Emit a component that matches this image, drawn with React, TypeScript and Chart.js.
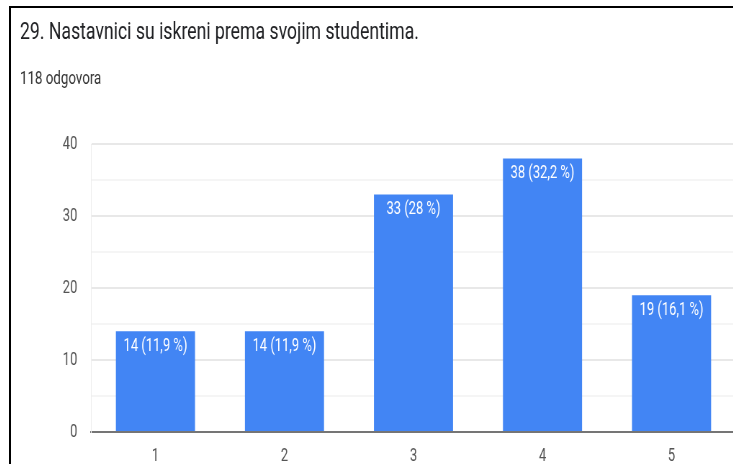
import React, { useEffect, useRef } from "react";
import { Chart, registerables } from "chart.js";

Chart.register(...registerables);

const titleText = "29. Nastavnici su iskreni prema svojim studentima.";
const subtitleText = "118 odgovora";
const categories = ["1", "2", "3", "4", "5"];
const counts = [14, 14, 33, 38, 19];
const totalResponses = 118;
const yTicks = [0, 10, 20, 30, 40];

const SX = 0.72;

function pctLabel(v: number): string {
  const p = (v / totalResponses) * 100;
  let s = p.toFixed(1);
  if (s.endsWith(".0")) s = s.slice(0, -2);
  return `${v} (${s.replace(".", ",")} %)`;
}

const headerPlugin = {
  id: "header",
  beforeDraw(chart: any) {
    const ctx = chart.ctx;
    ctx.save();
    ctx.fillStyle = "#ffffff";
    ctx.fillRect(0, 0, chart.width, chart.height);
    ctx.fillStyle = "#202124";
    ctx.textAlign = "left";
    ctx.textBaseline = "alphabetic";
    ctx.font = "24.5px Roboto";
    ctx.fillText(titleText, 12.5, 31);
    ctx.font = "18.5px Roboto";
    ctx.fillStyle = "#333333";
    ctx.fillText(subtitleText, 12.5, 76);
    ctx.restore();
  },
};

const barLabelPlugin = {
  id: "barLabels",
  afterDatasetsDraw(chart: any) {
    const ctx = chart.ctx;
    const meta = chart.getDatasetMeta(0);
    const data = chart.data.datasets[0].data as number[];
    ctx.save();
    ctx.fillStyle = "#ffffff";
    ctx.font = "18px Roboto";
    ctx.textAlign = "center";
    ctx.textBaseline = "top";
    meta.data.forEach((bar: any, i: number) => {
      ctx.fillText(pctLabel(data[i]), bar.x, bar.y + 6);
    });
    ctx.restore();
  },
};

export default function App() {
  const ref = useRef<HTMLCanvasElement | null>(null);
  useEffect(() => {
    if (!ref.current) return;
    const chart = new Chart(ref.current, {
      type: "bar",
      data: {
        labels: categories,
        datasets: [
          {
            data: counts,
            backgroundColor: "#4285f4",
            borderWidth: 0,
            barPercentage: 0.613,
            categoryPercentage: 1,
          },
        ],
      },
      options: {
        animation: false,
        responsive: true,
        maintainAspectRatio: false,
        layout: { padding: { top: 136, left: 71, right: 3, bottom: 0 } },
        plugins: {
          legend: { display: false },
          tooltip: { enabled: false },
          title: { display: false },
        },
        scales: {
          x: {
            afterFit: (scale: any) => {
              scale.height = 36;
            },
            grid: { display: false, drawTicks: false },
            border: { display: true, color: "#757575", width: 2 },
            ticks: {
              color: "#555555",
              font: { family: "Roboto", size: 18 },
              padding: 14,
            },
          },
          y: {
            min: 0,
            max: 40,
            afterFit: (scale: any) => {
              scale.width = 40;
            },
            afterBuildTicks: (scale: any) => {
              const t: any[] = [];
              for (let v = 0; v <= 40; v += 5) t.push({ value: v });
              scale.ticks = t;
            },
            grid: {
              drawTicks: false,
              color: (c: any) => {
                const v = c.tick ? c.tick.value : 0;
                if (v === 0) return "rgba(0,0,0,0)";
                return v % 10 === 0 ? "#e8e8e8" : "#f5f5f5";
              },
              lineWidth: 2,
            },
            border: { display: true, color: "#eeeeee", width: 1 },
            ticks: {
              color: "#555555",
              font: { family: "Roboto", size: 18 },
              padding: 19,
              callback: (v: any) => (yTicks.includes(Number(v)) ? String(v) : ""),
            },
          },
        },
      },
      plugins: [headerPlugin, barLabelPlugin],
    });
    return () => chart.destroy();
  }, []);

  return (
    <div
      style={{
        position: "fixed",
        left: 9,
        top: 6,
        width: 724,
        height: 458,
        borderTop: "2px solid #000",
        borderLeft: "2px solid #000",
        overflow: "hidden",
        background: "#fff",
        boxSizing: "border-box",
      }}
    >
      <div
        style={{
          width: 1010,
          height: 460,
          transform: `scaleX(${SX})`,
          transformOrigin: "0 0",
        }}
      >
        <canvas ref={ref} />
      </div>
    </div>
  );
}
